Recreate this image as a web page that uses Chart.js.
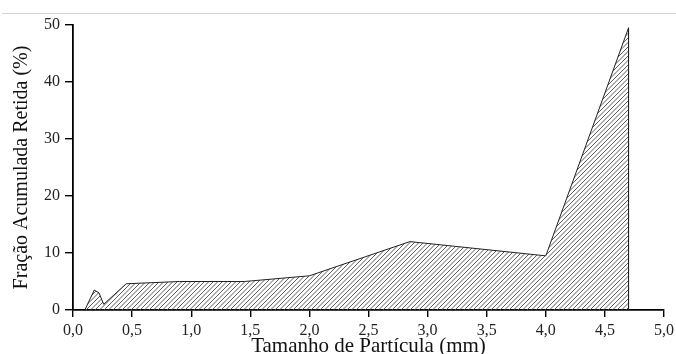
<!DOCTYPE html>
<html>
<head>
<meta charset="utf-8">
<script src="https://cdn.jsdelivr.net/npm/chart.js@4.4.1/dist/chart.umd.min.js"></script>
<style>
  html, body { margin: 0; padding: 0; background: #fff; }
  #wrap { position: relative; width: 676px; height: 354px; }
  #topRule { position: absolute; left: 2px; right: 0; top: 13px; height: 1px; background: #d4d4d4; }
  canvas { position: absolute; left: 0; top: 0; }
</style>
</head>
<body>
<div id="wrap">
  <div id="topRule"></div>
  <canvas id="sieveChart" width="676" height="354"></canvas>
</div>
<script>
// particle size (mm) and cumulative retained fraction (%)
const particleSize = [0.10, 0.18, 0.22, 0.26, 0.45, 0.90, 1.45, 2.00, 2.85, 4.00, 4.70, 4.70];
const retained     = [0.0,  3.5,  3.0,  1.0,  4.6,  5.0,  5.0,  6.0,  12.0, 9.5,  49.5, 0.0];

const xTicks = [0, 0.5, 1.0, 1.5, 2.0, 2.5, 3.0, 3.5, 4.0, 4.5, 5.0];
const yTicks = [0, 10, 20, 30, 40, 50];

const serif = 'Liberation Serif, Times New Roman, serif';

// diagonal hatch used as the area fill (two stripes per 9px tile)
function makeHatch() {
    const s = 9, step = 4.5;
    const c = document.createElement('canvas');
    c.width = s; c.height = s;
    const g = c.getContext('2d');
    g.strokeStyle = '#4a4a4a';
    g.lineWidth = 0.9;
    g.beginPath();
    for (let k = 0; k <= 4; k++) {
        const d = k * step;
        g.moveTo(d + 1, -1); g.lineTo(d - s - 1, s + 1);
    }
    g.stroke();
    return g.createPattern(c, 'repeat');
}

const points = particleSize.map((x, i) => ({ x: x, y: retained[i] }));

new Chart(document.getElementById('sieveChart'), {
    type: 'scatter',
    data: {
        datasets: [{
            data: points,
            showLine: true,
            fill: 'origin',
            backgroundColor: makeHatch(),
            borderColor: '#222',
            borderWidth: 1,
            pointRadius: 0,
            tension: 0
        }]
    },
    options: {
        responsive: false,
        animation: false,
        layout: { padding: { top: 25, right: 12, left: 0, bottom: 0 } },
        plugins: { legend: { display: false }, tooltip: { enabled: false } },
        scales: {
            x: {
                type: 'linear',
                min: 0, max: 5,
                afterBuildTicks: axis => { axis.ticks = xTicks.map(v => ({ value: v })); },
                afterFit: axis => {
                    axis.height = 44;
                    axis.paddingLeft = 0;
                    axis.paddingRight = 0;
                },
                ticks: {
                    color: '#222',
                    font: { family: serif, size: 16 },
                    padding: 4,
                    maxRotation: 0,
                    callback: v => v.toFixed(1).replace('.', ',')
                },
                grid: { drawOnChartArea: false, drawTicks: true, tickLength: 7, color: '#000', lineWidth: 1.4 },
                border: { color: '#000', width: 1.8 },
                title: {
                    display: true,
                    text: 'Tamanho de Partícula (mm)',
                    color: '#111',
                    font: { family: serif, size: 21, lineHeight: 0.75 },
                    padding: { top: 0, bottom: 0 }
                }
            },
            y: {
                min: 0, max: 50,
                afterBuildTicks: axis => { axis.ticks = yTicks.map(v => ({ value: v })); },
                afterFit: axis => { axis.width = 73; },
                ticks: {
                    color: '#222',
                    font: { family: serif, size: 16 },
                    padding: 5
                },
                grid: { drawOnChartArea: false, drawTicks: true, tickLength: 8, color: '#000', lineWidth: 1.4 },
                border: { color: '#000', width: 1.8 },
                title: {
                    display: true,
                    text: 'Fração Acumulada Retida (%)',
                    color: '#111',
                    font: { family: serif, size: 20 },
                    padding: { top: 10, bottom: 0 }
                }
            }
        }
    }
});
</script>
</body>
</html>
